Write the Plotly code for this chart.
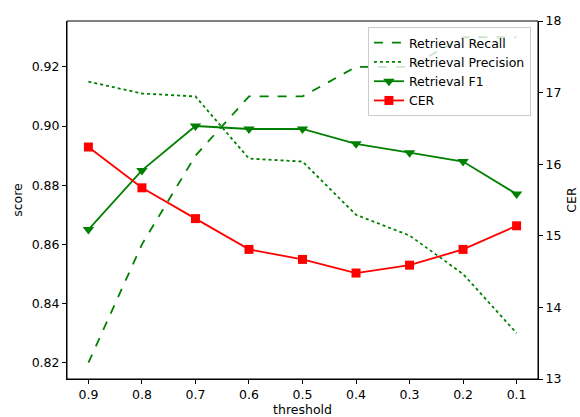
import plotly.graph_objects as go

thresholds = ["0.9", "0.8", "0.7", "0.6", "0.5", "0.4", "0.3", "0.2", "0.1"]
recall = [0.820, 0.860, 0.890, 0.910, 0.910, 0.920, 0.920, 0.930, 0.930]
precision = [0.915, 0.911, 0.910, 0.889, 0.888, 0.870, 0.863, 0.850, 0.830]
f1 = [0.865, 0.885, 0.900, 0.899, 0.899, 0.894, 0.891, 0.888, 0.877]
cer = [16.24, 15.67, 15.24, 14.81, 14.67, 14.48, 14.59, 14.81, 15.14]

green = "#008000"
red = "#ff0000"
font = dict(family="DejaVu Sans", size=12.5, color="black")

fig = go.Figure()
fig.add_trace(go.Scatter(x=thresholds, y=recall, name="Retrieval Recall", mode="lines",
                         line=dict(color=green, width=1.8, dash="dash")))
fig.add_trace(go.Scatter(x=thresholds, y=precision, name="Retrieval Precision", mode="lines",
                         line=dict(color=green, width=1.8, dash="dot")))
fig.add_trace(go.Scatter(x=thresholds, y=f1, name="Retrieval F1", mode="lines+markers",
                         line=dict(color=green, width=1.8),
                         marker=dict(symbol="triangle-down", size=10, color=green)))
fig.add_trace(go.Scatter(x=thresholds, y=cer, name="CER", mode="lines+markers", yaxis="y2",
                         line=dict(color=red, width=1.8),
                         marker=dict(symbol="square", size=9, color=red)))

axis_common = dict(showgrid=False, zeroline=False, showline=True, linecolor="black", linewidth=1,
                   ticks="outside", ticklen=4, tickwidth=1, tickcolor="black",
                   tickfont=font, automargin=False)

fig.update_layout(
    width=580, height=417,
    margin=dict(l=67, r=42, t=21, b=38),
    paper_bgcolor="white", plot_bgcolor="white",
    font=font,
    showlegend=True,
    legend=dict(x=0.985, y=0.983, xanchor="right", yanchor="top",
                bgcolor="rgba(255,255,255,0.8)", bordercolor="#cccccc", borderwidth=1,
                font=font, tracegroupgap=0, itemwidth=30),
    xaxis=dict(**axis_common, type="category", range=[-0.4, 8.4],
               title=dict(text="threshold", font=font, standoff=5)),
    yaxis=dict(**axis_common, range=[0.8145, 0.9355], tickvals=[0.82, 0.84, 0.86, 0.88, 0.90, 0.92],
               tickformat=".2f",
               title=dict(text="score", font=font, standoff=6)),
    yaxis2=dict(**axis_common, overlaying="y", side="right", range=[13, 18],
                tickvals=[13, 14, 15, 16, 17, 18],
                title=dict(text="CER", font=font, standoff=6)),
    shapes=[dict(type="rect", xref="paper", yref="paper", x0=0, x1=1, y0=0, y1=1,
                 line=dict(color="black", width=1), layer="above")],
)

fig.write_html("out.html", config={"displayModeBar": False},
               post_script="document.body.style.margin='0px';document.body.style.overflow='hidden';")
